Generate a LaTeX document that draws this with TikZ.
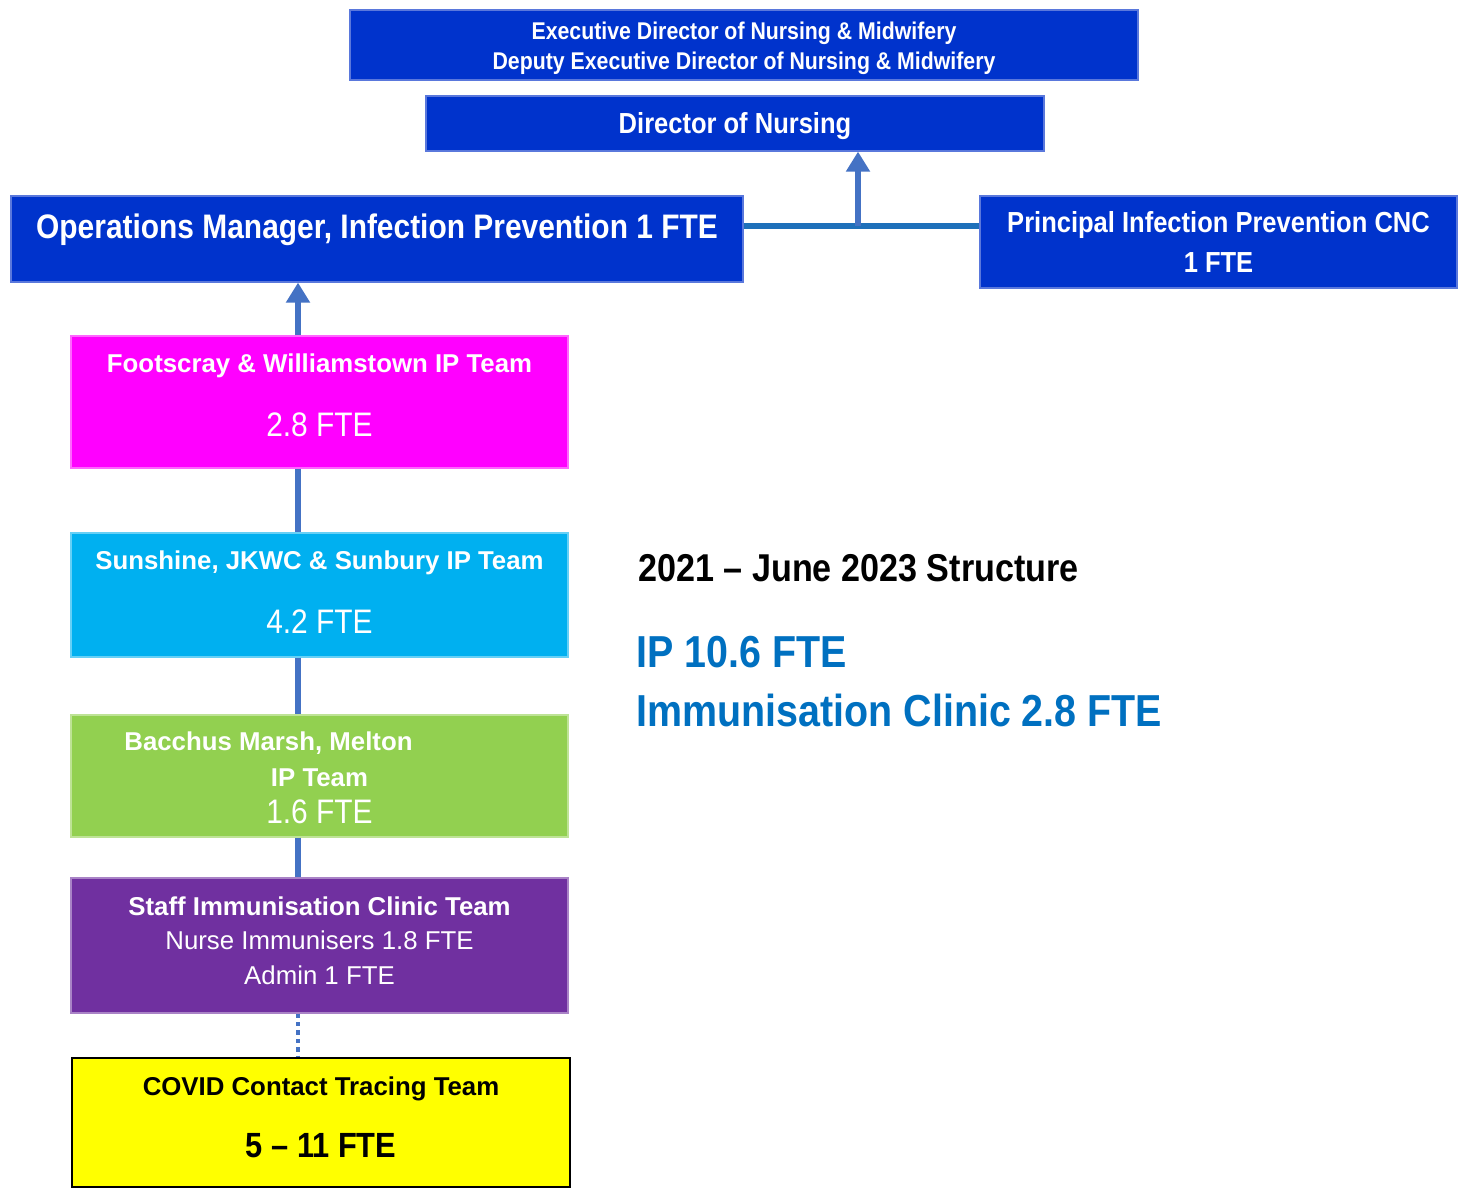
\documentclass[tikz,border=0pt]{standalone}
\usepackage{fontspec}
\setmainfont{Liberation Sans}
\newfontfamily\narrowsf[FakeStretch=0.88]{Liberation Sans}
\usetikzlibrary{positioning, arrows.meta}
\definecolor{royal}{RGB}{0,51,204}
\definecolor{royaledge}{RGB}{90,120,220}
\definecolor{linkblue}{RGB}{68,114,196}
\definecolor{barblue}{RGB}{30,112,186}
\definecolor{ipmagenta}{RGB}{255,0,255}
\definecolor{ipcyan}{RGB}{0,176,240}
\definecolor{ipgreen}{RGB}{146,208,80}
\definecolor{ippurple}{RGB}{112,48,160}
\definecolor{ipyellow}{RGB}{255,255,0}
\definecolor{noteblue}{RGB}{0,112,192}
\tikzset{
  topbox/.style={rectangle, fill=royal, draw=royaledge, line width=0.6pt, text=white, align=center, inner sep=0pt},
  team/.style={rectangle, fill=#1, draw=#1!60!white, line width=0.6pt, text=white, align=center, inner sep=0pt, minimum width=248.5pt},
  link/.style={draw=linkblue, line width=2.6pt},
  uparrow/.style={link, -{Triangle[width=11.5pt, length=10pt]}},
  note/.style={anchor=west, inner sep=0pt, font=\narrowsf\bfseries\fontsize{22.4}{28}\selectfont, text=noteblue}
}
\newcommand{\bigfte}[1]{{\narrowsf\mdseries\fontsize{17}{18}\selectfont #1}}
\begin{document}
\begin{tikzpicture}[x=0.5pt, y=-0.5pt]
  \useasboundingbox (0,0) rectangle (1460,1189);
  \node[topbox, minimum width=394pt, minimum height=35pt, text height=27pt, font=\narrowsf\bfseries\fontsize{12.1}{15}\selectfont] (edn) at (744, 45) {Executive Director of Nursing \& Midwifery\\Deputy Executive Director of Nursing \& Midwifery};
  \node[topbox, minimum width=309pt, minimum height=27.5pt, text height=12.6pt, text depth=3.1pt, font=\narrowsf\bfseries\fontsize{14.5}{16}\selectfont] (don) at (735, 123.5) {Director of Nursing};
  \node[topbox, minimum width=366pt, minimum height=43pt, text height=11pt, text depth=12pt, font=\narrowsf\bfseries\fontsize{17}{19}\selectfont] (ops) at (377, 239) {Operations Manager, Infection Prevention 1 FTE};
  \node[topbox, minimum width=238.5pt, minimum height=46pt, font=\narrowsf\bfseries\fontsize{14.5}{20}\selectfont] (cnc) at (1218.5, 242) {Principal Infection Prevention CNC\\1 FTE};

  \node[team=ipmagenta, minimum height=66pt, text depth=6.8pt, font=\bfseries\fontsize{12.9}{31.75}\selectfont] (fw) at (319.5, 402) {Footscray \& Williamstown IP Team\\\bigfte{2.8 FTE}};
  \node[team=ipcyan, minimum height=62pt, text depth=2.8pt, font=\bfseries\fontsize{12.9}{31.75}\selectfont] (sjs) at (319.5, 595) {Sunshine, JKWC \& Sunbury IP Team\\\bigfte{4.2 FTE}};
  \node[team=ipgreen, minimum height=61pt, text height=48pt, font=\bfseries\fontsize{12.9}{18}\selectfont] (bm) at (319.5, 776) {Bacchus Marsh, Melton\hspace*{51pt}\\IP Team\\[0.5pt]\bigfte{1.6 FTE}};
  \node[team=ippurple, minimum height=67.5pt, text depth=5pt, font=\fontsize{12.9}{17.25}\selectfont] (sic) at (319.5, 945.5) {\textbf{Staff Immunisation Clinic Team}\\Nurse Immunisers 1.8 FTE\\Admin 1 FTE};
  \node[team=ipyellow, draw=black, line width=1pt, text=black, minimum width=249pt, minimum height=64.5pt, text depth=5.2pt, font=\bfseries\fontsize{12.9}{30.75}\selectfont] (cct) at (321, 1122.5) {COVID Contact Tracing Team\\{\narrowsf\fontsize{17.5}{18}\selectfont 5 – 11 FTE}};

  \node[note, text=black, font=\narrowsf\bfseries\fontsize{19.4}{22}\selectfont] (period) at (638, 568) {2021 – June 2023 Structure};
  \node[note] (ipfte) at (636, 652) {IP 10.6 FTE};
  \node[note] (clinicfte) at (636, 710) {Immunisation Clinic 2.8 FTE};

  % links
  \coordinate (join) at (858, 226);
  \coordinate (spine) at (298, 0);
  \draw[draw=barblue, line width=2.6pt] (ops.east |- join) -- (cnc.west |- join);
  \draw[uparrow] (join) -- (don.south -| join);
  \draw[uparrow] (fw.north -| spine) -- (ops.south -| spine);
  \foreach \a/\b in {fw/sjs, sjs/bm, bm/sic}
    \draw[link] (\a.south -| spine) -- (\b.north -| spine);
  \draw[link, line width=2.2pt, dotted] (sic.south -| spine) -- (cct.north -| spine);
\end{tikzpicture}
\end{document}
